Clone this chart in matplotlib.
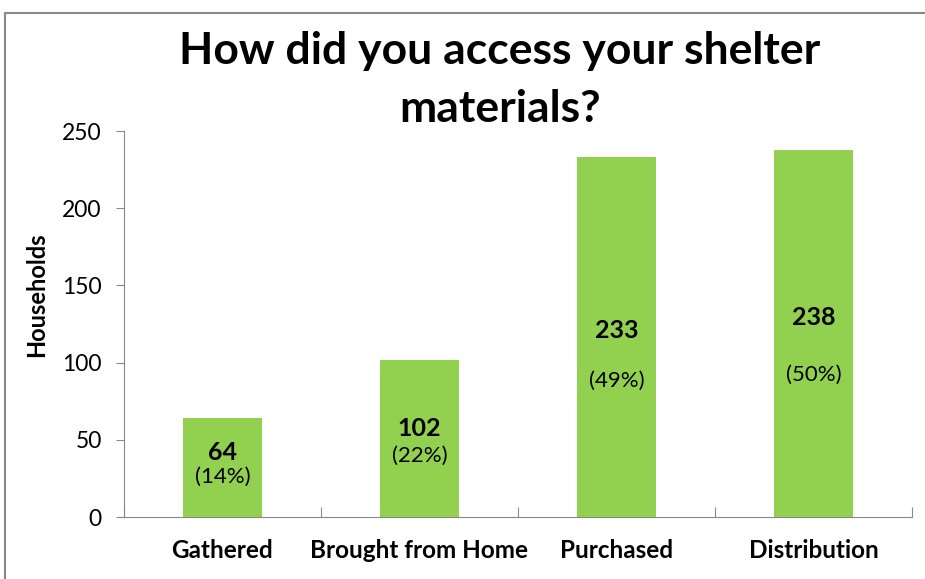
import matplotlib.pyplot as plt
from matplotlib.patches import Rectangle

categories = ['Gathered', 'Brought from Home', 'Purchased', 'Distribution']
households = [64, 102, 233, 238]
shares = ['(14%)', '(22%)', '(49%)', '(50%)']

# where the count / share labels sit inside each bar (data units)
count_y = [41.5, 57.5, 121, 129]
share_y = [26, 39.5, 88, 92]

plt.rcParams['font.family'] = ['Lato', 'DejaVu Sans']

fig = plt.figure(figsize=(9.25, 5.79), dpi=100)
ax = fig.add_axes([124 / 925, 62 / 579, 788 / 925, 386 / 579])

x = range(len(categories))
ax.bar(x, households, width=0.4, color='#92D050')

for i in x:
    ax.text(i, count_y[i], str(households[i]), ha='center', va='center',
            fontsize=18, fontweight='bold')
    ax.text(i, share_y[i], shares[i], ha='center', va='center', fontsize=16)

ax.set_xlim(-0.5, len(categories) - 0.5)
ax.set_ylim(0, 250)
ax.set_yticks([0, 50, 100, 150, 200, 250])
ax.set_xticks([i + 0.5 for i in range(-1, len(categories))], minor=False)
ax.set_xticklabels([])
ax.set_xticks(list(x), minor=True)
ax.set_xticklabels(categories, minor=True, fontsize=17.5, fontweight='bold')
ax.tick_params(axis='x', which='minor', length=0, pad=16)
ax.tick_params(axis='x', which='major', length=7, direction='in',
               color='#888888')
ax.tick_params(axis='y', labelsize=16.5, length=6, color='#888888', pad=10)

for s in ['top', 'right']:
    ax.spines[s].set_visible(False)
for s in ['left', 'bottom']:
    ax.spines[s].set_color('#888888')

ax.set_ylabel('Households', fontsize=17, fontweight='bold')
ax.yaxis.set_label_coords(-0.096, 0.575)

fig.text(500 / 925, 1 - 80 / 579,
         'How did you access your shelter\nmaterials?',
         ha='center', va='center', fontsize=32, fontweight='bold',
         linespacing=1.55)

# outer chart frame
fig.patches.append(Rectangle((5 / 925, -0.05), 1.0, 1 - 13 / 579 + 0.05,
                             transform=fig.transFigure, fill=False,
                             edgecolor='#888888', linewidth=1.5))

fig.savefig('out.png', dpi=100)
